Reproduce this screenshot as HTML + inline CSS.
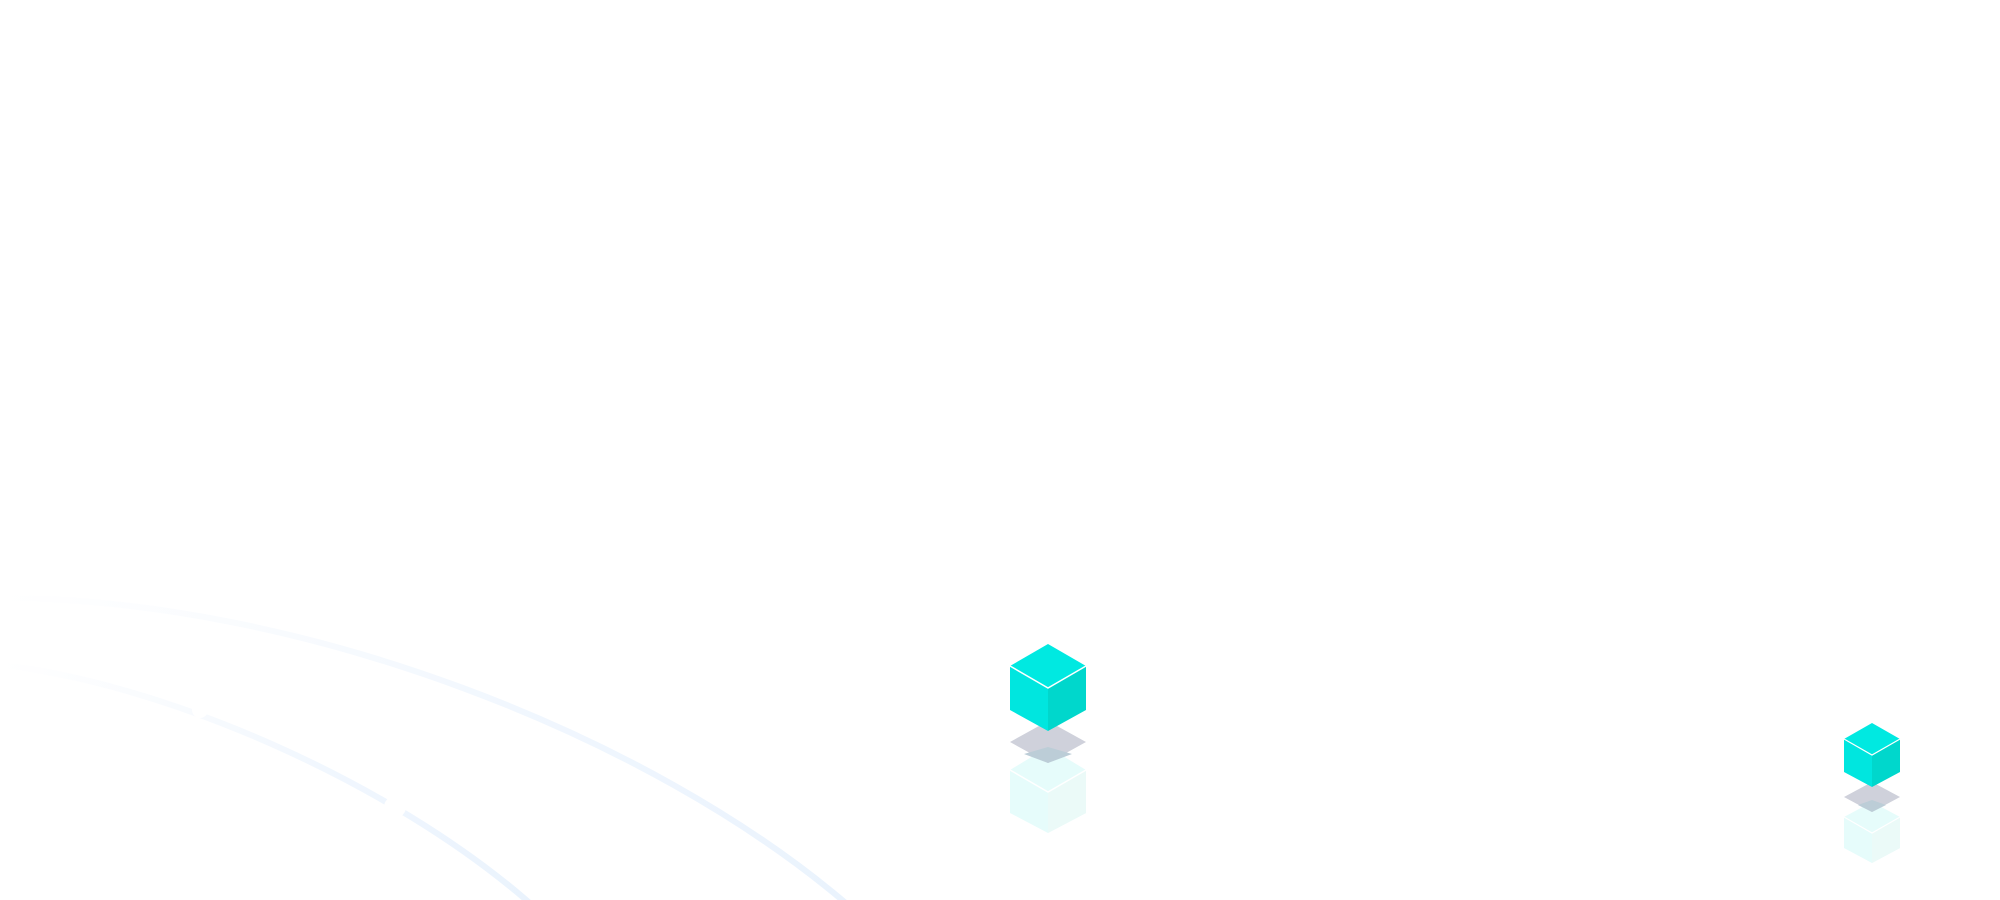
<!DOCTYPE html>
<html><head><meta charset="utf-8"><style>html,body{margin:0;padding:0;background:#fff;width:2000px;height:900px;overflow:hidden}</style></head>
<body>
<svg width="2000" height="900" viewBox="0 0 2000 900" xmlns="http://www.w3.org/2000/svg">
<defs>
<linearGradient id="g" x1="0" y1="0" x2="1" y2="0">
<stop offset="0" stop-color="#f6f9fe" stop-opacity="0"/>
<stop offset="0.3" stop-color="#f5f9fe" stop-opacity="0.6"/>
<stop offset="0.6" stop-color="#f1f7fe"/>
<stop offset="1" stop-color="#eaf3fd"/>
</linearGradient>
</defs>
<path d="M0,598 C300,598 650,735 848,905" fill="none" stroke="url(#g)" stroke-width="6"/>
<path d="M0,665 C160,682 390,780 532,905" fill="none" stroke="url(#g)" stroke-width="6"/>
<circle cx="649" cy="742" r="12" fill="#fff"/>
<circle cx="395" cy="807" r="11" fill="#fff"/>
<circle cx="200" cy="710" r="8" fill="#fff"/>

<g>
<polygon points="1010,770 1048,747 1086,770 1086,813 1048,833 1010,813" fill="#e6fcfb"/>
<polygon points="1048,792 1086,770 1086,813 1048,833" fill="#ebfaf8"/>
<polyline points="1010,770 1048,792 1086,770" fill="none" stroke="#fff" stroke-width="1.5"/>
<polygon points="1010,742 1048,721 1086,742 1048,763" fill="#cfd1db"/>
<polygon points="1024,754 1048,747 1072,754 1048,763" fill="#bccdd7"/>
<polygon points="1048,644 1086,666 1048,688 1010,666" fill="#00e9e1"/>
<polygon points="1010,666 1048,688 1048,731 1010,710" fill="#00e6df"/>
<polygon points="1048,688 1086,666 1086,710 1048,731" fill="#00d7cc"/>
<polyline points="1010,666 1048,688 1086,666" fill="none" stroke="#fff" stroke-width="1.5"/>
</g>
<g>
<polygon points="1844,817 1872,802 1900,817 1900,848 1872,863 1844,848" fill="#e6fcfb"/>
<polygon points="1872,833 1900,817 1900,848 1872,863" fill="#ebfaf8"/>
<polyline points="1844,817 1872,833 1900,817" fill="none" stroke="#fff" stroke-width="1.2"/>
<polygon points="1844,797 1872,782 1900,797 1872,812" fill="#cfd1db"/>
<polygon points="1858,805 1872,800 1886,805 1872,812" fill="#bccdd7"/>
<polygon points="1872,723 1900,739 1872,755 1844,739" fill="#00e9e1"/>
<polygon points="1844,739 1872,755 1872,787 1844,772" fill="#00e6df"/>
<polygon points="1872,755 1900,739 1900,772 1872,787" fill="#00d7cc"/>
<polyline points="1844,739 1872,755 1900,739" fill="none" stroke="#fff" stroke-width="1.2"/>
</g>
</svg>
</body></html>
